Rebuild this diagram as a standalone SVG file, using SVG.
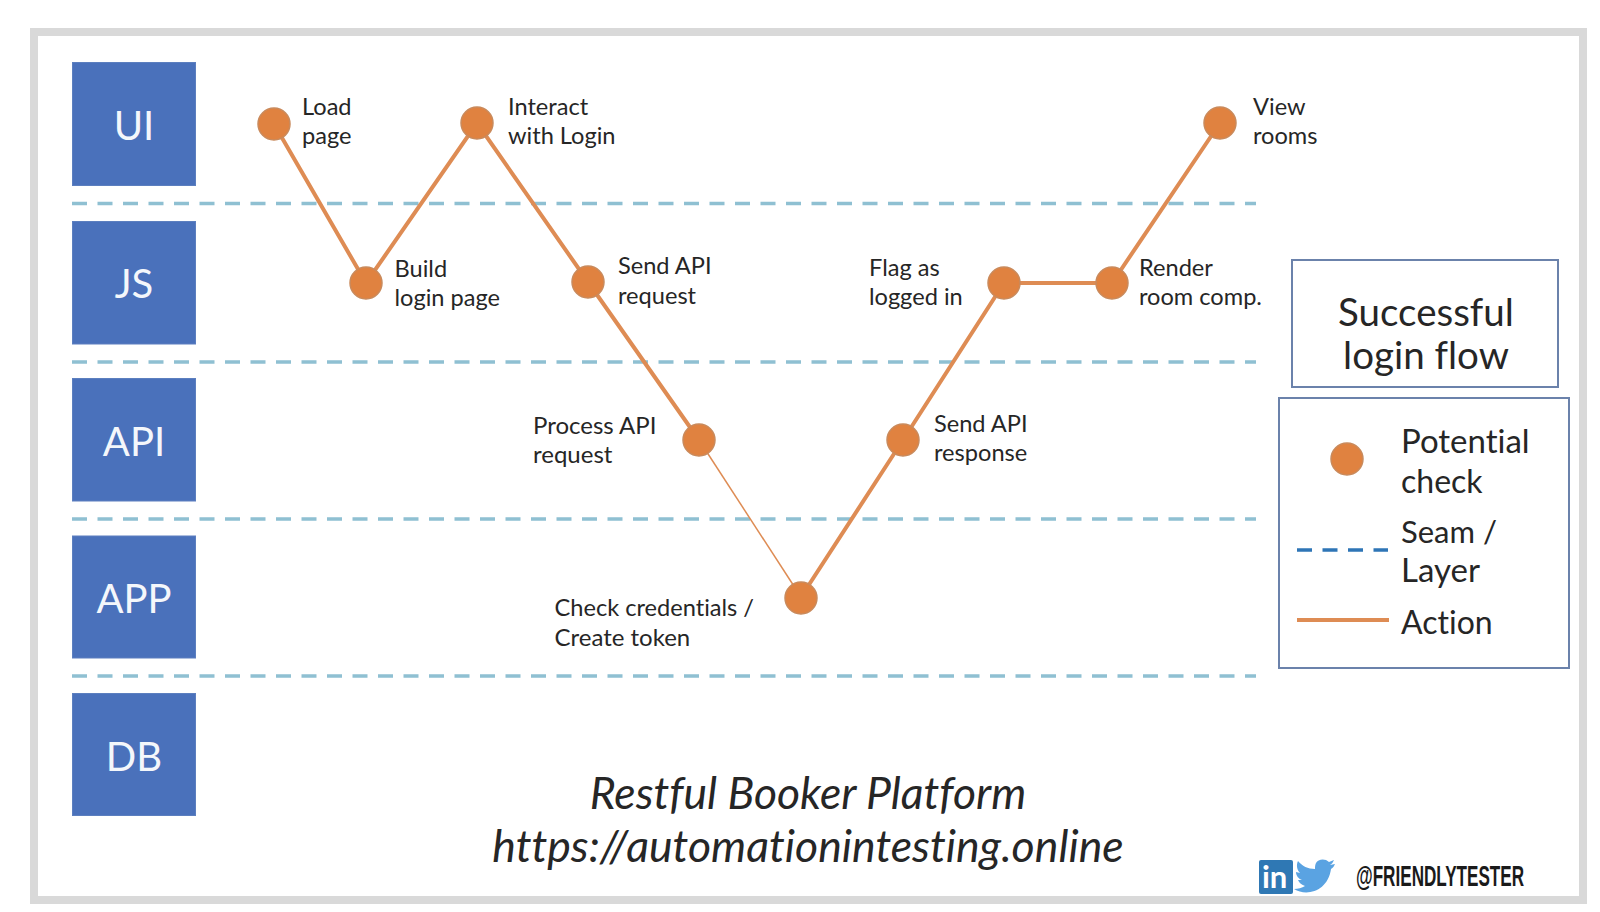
<svg xmlns="http://www.w3.org/2000/svg" width="1600" height="912" viewBox="0 0 1600 912">
<style>
text{font-family:Lato,"Open Sans","Liberation Sans",sans-serif;fill:#262626;font-variant-ligatures:none}
.box{fill:#4a71bb;stroke:#5c7fbf;stroke-width:1}
.bt{fill:#f4f7fb;font-size:40px;text-anchor:middle}
.seam{stroke:#8fc0d2;stroke-width:3.5;stroke-dasharray:15 10.5;fill:none}
.act{stroke:#de8c54;stroke-width:4;fill:none}
.dot{fill:#e08240;stroke:#c98a5c;stroke-width:1.5}
.lb{font-size:23.6px}
.lg{font-size:32px}
.frame{fill:none;stroke:#d9d9d9;stroke-width:8}
.panel{fill:#fff;stroke:#6b82ab;stroke-width:2}
</style>
<rect width="1600" height="912" fill="#fff"/>
<rect class="frame" x="34" y="32" width="1549" height="868"/>
<g id="seams">
<line class="seam" x1="72" y1="203.5" x2="1256" y2="203.5"/>
<line class="seam" x1="72" y1="362" x2="1256" y2="362"/>
<line class="seam" x1="72" y1="519" x2="1256" y2="519"/>
<line class="seam" x1="72" y1="676" x2="1256" y2="676"/>
</g>
<g id="connectors">
<path class="act" d="M274 124L366 283L477 123L588 282L699 440"/>
<path class="act" style="stroke-width:1.5" d="M699 440L801 597"/>
<path class="act" d="M801 597L903 440L1004 283L1112 283L1220 123"/>
</g>
<g id="layer-ui"><rect class="box" x="72.5" y="62.5" width="123" height="123"/><text class="bt" x="134" y="140">UI</text></g>
<g id="layer-js"><rect class="box" x="72.5" y="221.5" width="123" height="122.5"/><text class="bt" x="134" y="298">JS</text></g>
<g id="layer-api"><rect class="box" x="72.5" y="378.5" width="123" height="122.5"/><text class="bt" x="134" y="456">API</text></g>
<g id="layer-app"><rect class="box" x="72.5" y="536" width="123" height="122"/><text class="bt" x="134" y="613">APP</text></g>
<g id="layer-db"><rect class="box" x="72.5" y="693.5" width="123" height="122"/><text class="bt" x="134" y="771">DB</text></g>
<g id="n-load"><circle class="dot" cx="274" cy="124" r="16"/><text class="lb" x="302" y="115">Load</text><text class="lb" x="302" y="144">page</text></g>
<g id="n-build"><circle class="dot" cx="366" cy="283" r="16"/><text class="lb" x="394.500" y="277">Build</text><text class="lb" x="394.500" y="306">login page</text></g>
<g id="n-interact"><circle class="dot" cx="477" cy="123" r="16"/><text class="lb" x="508" y="115">Interact</text><text class="lb" x="508" y="144">with Login</text></g>
<g id="n-send-req"><circle class="dot" cx="588" cy="282" r="16"/><text class="lb" x="618" y="274">Send API</text><text class="lb" x="618" y="303.500">request</text></g>
<g id="n-process"><circle class="dot" cx="699" cy="440" r="16"/><text class="lb" style="font-size:24px" x="533" y="434">Process API</text><text class="lb" style="font-size:24px" x="533" y="463">request</text></g>
<g id="n-check"><circle class="dot" cx="801" cy="598" r="16"/><text class="lb" x="554.500" y="616">Check credentials /</text><text class="lb" style="font-size:24px" x="554.500" y="646">Create token</text></g>
<g id="n-send-res"><circle class="dot" cx="903" cy="440" r="16"/><text class="lb" x="934" y="432">Send API</text><text class="lb" x="934" y="461">response</text></g>
<g id="n-flag"><circle class="dot" cx="1004" cy="283" r="16"/><text class="lb" x="869" y="276">Flag as</text><text class="lb" x="869" y="305">logged in</text></g>
<g id="n-render"><circle class="dot" cx="1112" cy="283" r="16"/><text class="lb" x="1139" y="276">Render</text><text class="lb" x="1139" y="305">room comp.</text></g>
<g id="n-view"><circle class="dot" cx="1220" cy="123" r="16"/><text class="lb" x="1253" y="115">View</text><text class="lb" x="1253" y="144">rooms</text></g>
<g id="title"><rect class="panel" x="1292" y="260" width="266" height="127"/><text x="1426" y="326" font-size="38.5" text-anchor="middle">Successful</text><text x="1426" y="369" font-size="38.5" text-anchor="middle">login flow</text></g>
<g id="legend"><rect class="panel" x="1279" y="398" width="290" height="270"/>
<circle class="dot" cx="1347" cy="459" r="16"/>
<line x1="1297" y1="550" x2="1388" y2="550" stroke="#2e75b6" stroke-width="3.5" stroke-dasharray="15 10.5"/>
<line class="act" x1="1297" y1="620" x2="1389" y2="620"/>
<text class="lg" style="font-size:33px" x="1401" y="453">Potential</text><text class="lg" x="1401" y="493">check</text><text class="lg" style="font-size:31px" x="1401" y="543">Seam /</text><text class="lg" style="font-size:33px" x="1401" y="582">Layer</text><text class="lg" x="1401" y="634">Action</text></g>
<g id="footer"><text x="808" y="809" font-size="44.500" font-style="italic" text-anchor="middle">Restful Booker Platform</text><text x="808" y="862" font-size="44.600" font-style="italic" text-anchor="middle">https://automationintesting.online</text></g>
<g id="social">
<rect x="1259" y="860" width="34" height="34" rx="2" fill="#2f78b4"/>
<text x="1262" y="888" font-size="31" font-weight="700" style="fill:#fff">in</text>
<path fill="#5aa3e2" d="M1335 864l-5 1c2-1 3-3 4-5l-5 2c-4-4-11-3-13 1-1 2-1 4-1 6-7 0-13-3-17-8-2 4-1 9 2 12l-4-1c0 4 3 7 6 8h-4c1 3 4 5 7 6-3 2-7 3-11 3 13 8 34 2 37-20 2-1 3-3 4-5z"/>
<text transform="translate(1356 886) scale(.59 1)" font-size="29" style="fill:#1a1a1a;font-family:'Liberation Sans',sans-serif;font-weight:700">@FRIENDLYTESTER</text>
</g>
</svg>
